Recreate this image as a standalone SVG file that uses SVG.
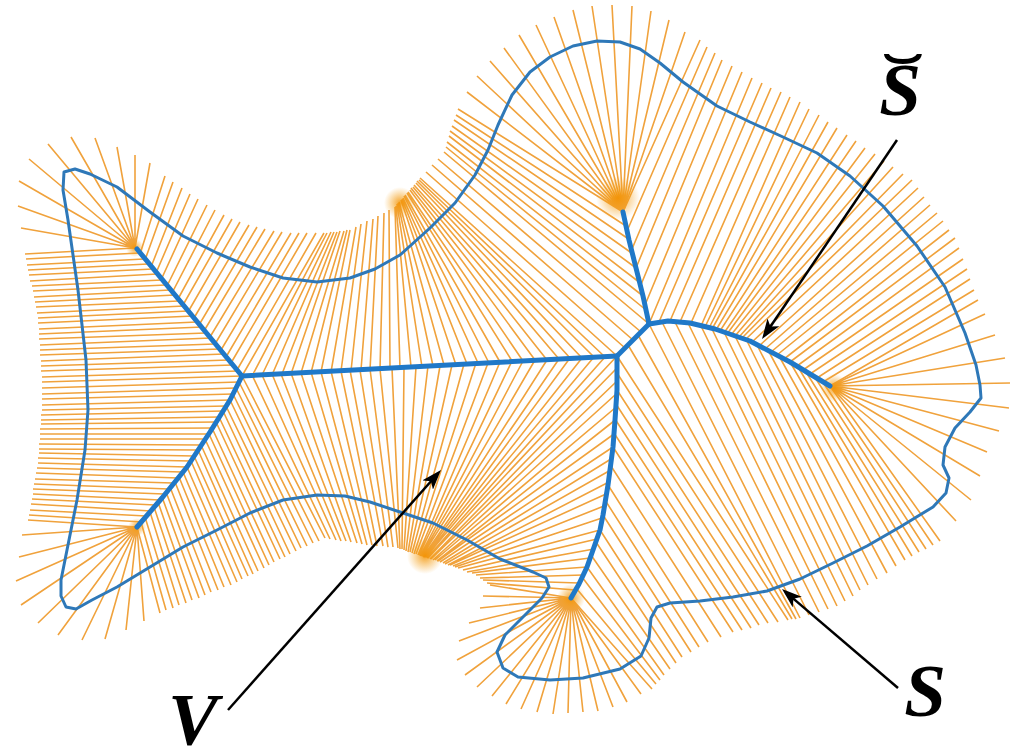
<svg xmlns="http://www.w3.org/2000/svg" width="1026" height="750" viewBox="0 0 1026 750">
<defs>
<style>
.sp{fill:none;stroke:#F0A23C;stroke-width:1.6}
.bd{fill:none;stroke:#2E78B8;stroke-width:3;stroke-linejoin:round}
.sk{fill:none;stroke:#1F78C8;stroke-width:5;stroke-linejoin:round;stroke-linecap:round}
.ar{fill:none;stroke:#000;stroke-width:2.5}
.lb{font-family:"Liberation Serif","Times New Roman",serif;font-weight:bold;font-style:italic;font-size:75px;fill:#000}
.br{font-family:"Liberation Serif","Times New Roman",serif;font-size:75px;fill:#000}
</style>
<radialGradient id="blob"><stop offset="0" stop-color="#F39200" stop-opacity="0.85"/><stop offset="1" stop-color="#F5A623" stop-opacity="0"/></radialGradient>
<marker id="ah" viewBox="0 0 20 14" markerWidth="20" markerHeight="14" refX="14" refY="7" orient="auto" markerUnits="userSpaceOnUse"><path d="M0 0L20 7L0 14L5 7Z" fill="#000"/></marker>
</defs>
<rect width="1026" height="750" fill="#fff"/>
<g id="spokes">
<path class="sp" d="M135 248L25 254M139 253L26 259M144 259L27 265M148 264L28 270M153 269L29 275M157 274L30 281M162 280L32 286M166 285L33 291M170 290L34 297M175 295L35 302M179 301L36 307M184 306L37 313M188 311L38 318M193 316L38 323M197 322L39 329M202 327L39 334M206 333L39 339M211 338L40 345M215 344L40 350M220 349L40 355M224 354L41 361M229 360L41 366M233 365L41 371M238 371L42 377M242 376L42 382M239 382L42 388M236 388L42 394M233 394L42 399M230 400L42 405M226 406L42 410M223 411L41 415M219 417L41 420M216 422L41 424M212 428L40 429M209 434L40 434M205 439L40 439M201 445L39 444M198 450L39 449M194 456L39 453M191 461L38 458M187 467L38 463M182 472L37 468M178 478L36 473M173 483L35 479M169 489L34 484M164 494L33 489M160 500L33 494M155 505L32 499M151 511L31 504M146 516L30 510M142 522L29 515M137 527L28 520"/>
<path class="sp" d="M137 527L22 535M137 527L19 557M137 527L16 581M137 527L21 605M137 527L38 623M137 527L58 635M137 527L82 640M137 527L105 639M137 527L126 630M137 527L144 621"/>
<path class="sp" d="M137 527L160 613M141 522L166 610M145 517L173 608M150 512L179 605M154 507L186 603M158 502L192 600M162 497L199 598M166 492L205 595M170 487L211 592M175 482L218 590M179 477L224 587M183 472L231 585M187 467L237 582M191 461L242 579M194 456L248 576M198 450L253 574M201 445L258 571M205 439L264 568M209 434L269 565M212 428L274 562M216 422L280 559M219 417L285 557M223 411L290 554M226 406L296 551M230 400L301 548M233 394L307 546M236 388L313 543M239 382L319 541M242 376L325 538"/>
<path class="sp" d="M252 375L330 539M262 375L336 540M272 374L341 541M281 374L346 541M291 373L351 542M301 373L357 543M311 372L362 544M321 372L367 545M331 371L372 545M341 371L377 546M350 370L383 546M360 370L388 547M370 369L393 547M380 369L398 548M392 368L400 549M404 368L402 549M416 367L404 550M428 366L406 551M440 366L408 552M452 365L410 552M464 364L412 553M476 363L414 554M488 363L416 554M500 362L418 555M512 361L419 555M523 361L420 556M535 360L421 556M547 360L422 556M559 359L423 557M570 358L424 557M582 358L425 557M594 357L426 557M605 357L427 558M617 356L428 558"/>
<path class="sp" d="M616 369L430 559M616 382L431 559M615 395L433 560M615 408L435 560M614 421L437 561M614 434L438 561M613 447L440 562M611 459L443 563M609 471L445 564M607 483L448 565M606 494L450 565M604 506L453 566M602 518L455 567M600 530L458 568M597 539L463 570M594 549L467 572M590 558L472 573M587 567L476 575M583 575L480 578M579 583L483 580M575 590L487 583M571 598L490 585"/>
<path class="sp" d="M571 598L483 596M571 598L480 608M571 598L469 623M571 598L459 641M571 598L457 660M571 598L465 675M571 598L477 687M571 598L492 696M571 598L506 704M571 598L521 709M571 598L537 712M571 598L553 714M571 598L568 713M571 598L583 712M571 598L598 711M571 598L613 707M571 598L627 702M571 598L641 694"/>
<path class="sp" d="M571 598L652 689M576 588L656 684M582 577L660 680M587 567L664 675M591 555L670 669M596 542L676 663M600 530L682 657M603 515L691 652M605 500L699 647M608 485L708 642M611 466L721 637M613 447L733 632M614 433L742 630M615 419L751 628M616 404L759 625M617 390L768 623M617 373L778 622M617 356L788 620M628 345L792 619M638 335L796 619M649 324L800 618"/>
<path class="sp" d="M662 322L809 615M675 322L819 612M688 323L828 609M701 326L837 606M712 329L845 601M724 332L853 596M735 336L860 590M746 339L868 585M757 345L877 579M768 350L887 573M779 356L896 566M790 362L905 560M798 367L912 556M806 372L919 552M814 376L926 549M822 381L933 545M830 386L940 541"/>
<path class="sp" d="M830 386L956 521M830 386L971 500M830 386L980 476M830 386L987 452M830 386L999 431M830 386L1009 408M830 386L1010 383M830 386L1005 358M830 386L995 335M830 386L985 314"/>
<path class="sp" d="M830 386L978 300M823 382L974 290M817 378L970 279M810 374L967 269M803 370L963 259M797 366L959 248M790 362L955 238M784 359L949 230M777 355L943 221M771 352L937 213M765 349L930 205M759 346L924 197M752 342L918 188M746 339L912 180M742 338L903 174M739 337L893 167M735 336L884 161M731 335L875 154M727 334L865 148M724 333L856 141M720 331L847 135M716 330L837 128M712 329L828 122M709 328L819 115M705 327L809 109M701 326L800 102M691 323L790 97M680 322L781 92M670 321L771 88M659 322L762 83M649 324L752 78M645 305L742 72M640 287L732 66M636 268L722 60M632 249L715 53M627 231L707 47M623 212L700 40"/>
<path class="sp" d="M623 212L685 32M623 212L669 20M623 212L651 11M623 212L632 6M623 212L612 5M623 212L592 6M623 212L573 10M623 212L554 17M623 212L536 25M623 212L519 35M623 212L504 48M623 212L490 61M623 212L477 76M623 212L467 92M623 212L458 109"/>
<path class="sp" d="M626 226L456 115M630 240L454 120M633 254L452 126M636 268L450 131M639 282L449 136M643 296L447 142M646 310L446 147M649 324L444 152M641 332L438 159M633 340L432 165M625 348L426 172M617 356L420 178"/>
<path class="sp" d="M605 357L419 180M594 357L417 181M582 358L416 183M570 358L414 185M559 359L413 187M547 360L411 188M535 360L410 190M523 361L408 192M512 361L407 193M500 362L405 195M489 363L404 196M478 363L403 198M467 364L402 199M456 365L401 200M444 365L399 202M433 366L398 203M422 367L397 204M411 367L396 206M400 368L395 207M390 369L389 210M380 369L384 213M370 370L378 216M361 370L373 219M351 371L367 221M341 371L361 224M331 372L356 227M321 372L350 230M311 373L347 230M301 373L344 231M291 374L340 231M282 374L337 232M272 375L334 232M262 375L331 232M252 376L327 233M242 376L324 233"/>
<path class="sp" d="M140 254L165 176M145 260L173 182M151 267L182 188M156 273L190 194M161 280L198 199M167 286L207 205M172 293L215 210M178 299L224 215M183 305L232 219M188 312L240 222M194 318L249 225M199 325L257 227M204 331L265 229M210 337L274 231M215 344L282 232M221 350L291 233M226 357L299 233M231 363L307 233M237 370L316 233"/>
<path class="sp" d="M135 248L150 163M135 248L135 155M135 248L117 147M135 248L95 138M135 248L71 137M135 248L48 144M135 248L29 159M135 248L19 181M135 248L18 206M135 248L21 228"/>
</g>
<g id="blobs">
<circle cx="618" cy="198" r="22" fill="url(#blob)"/>
<circle cx="571" cy="598" r="14" fill="url(#blob)"/>
<circle cx="834" cy="388" r="14" fill="url(#blob)"/>
<circle cx="135" cy="248" r="9" fill="url(#blob)"/>
<circle cx="137" cy="527" r="9" fill="url(#blob)"/>
<circle cx="400" cy="203" r="16" fill="url(#blob)"/>
<circle cx="425" cy="556" r="18" fill="url(#blob)"/>
</g>
<g id="boundary">
<path class="bd" d="M64 172L75 169L90 174L117 187L150 212L183 236L217 253L250 267L283 278L317 282L350 278L375 269L400 255L430 228L455 203L475 175L488 150L498 125L512 95L530 72L550 57L573 46L597 41L620 42L640 49L660 63L683 82L717 106L750 122L783 137L817 153L850 176L883 206L917 246L945 287L965 333L976 365L980 385L981 398L970 412L955 428L945 447L943 465L949 478L946 493L933 507L900 527L867 546L833 563L800 579L767 591L733 597L700 601L670 603L657 607L651 618L649 638L641 656L620 669L583 678L550 680L518 677L503 668L497 652L505 635L525 615L542 598L549 587L546 578L533 572L500 559L467 540L433 523L400 512L370 502L345 496L317 495L283 500L250 513L217 530L183 547L150 567L117 587L92 600L76 609L66 607L61 596L61 580L67 550L77 500L85 450L88 410L86 360L78 290L68 220L63 190Z"/>
</g>
<g id="skeleton">
<path class="sk" d="M137 249L242 376"/>
<path class="sk" d="M242 376L230 400L210 432L187 467L162 498L137 527"/>
<path class="sk" d="M242 376L617 356"/>
<path class="sk" d="M617 356L617 390L615 420L613 447L608 485L603 515L600 530L593 550L587 567L579 584L571 598"/>
<path class="sk" d="M617 356L649 324"/>
<path class="sk" d="M649 324L643 296L636 268L629 240L623 212"/>
<path class="sk" d="M649 324L668 321L690 323L715 329L750 341L790 362L830 386"/>
</g>
<g id="connectors">
<path class="ar" d="M897 140L765.4 334" marker-end="url(#ah)"/>
<path class="ar" d="M228 710L437 474.5" marker-end="url(#ah)"/>
<path class="ar" d="M898 688L786.6 592.9" marker-end="url(#ah)"/>
</g>
<g id="label-S-breve">
<text class="lb" x="900" y="115" text-anchor="middle">S</text>
<text class="br" transform="translate(903,105) scale(1.8,1)" text-anchor="middle">˘</text>
</g>
<g id="label-S"><text class="lb" x="925" y="716" text-anchor="middle">S</text></g>
<g id="label-V"><text class="lb" x="193" y="745" text-anchor="middle">V</text></g>
</svg>
